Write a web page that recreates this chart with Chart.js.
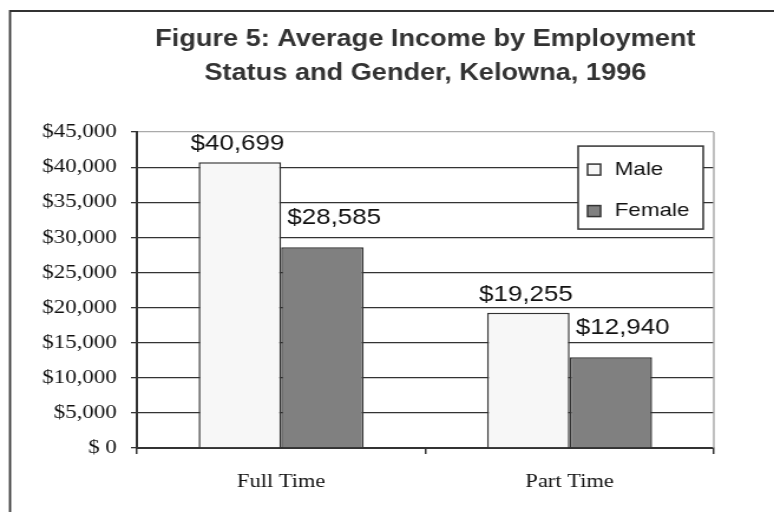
<!DOCTYPE html>
<html>
<head>
<meta charset="utf-8">
<title>Figure 5: Average Income by Employment Status and Gender, Kelowna, 1996</title>
<script src="https://cdn.jsdelivr.net/npm/chart.js@4"></script>
<style>
  html, body { margin: 0; padding: 0; background: #fff; }
</style>
</head>
<body>
<!-- the original figure is a little stretched sideways, so the 656px canvas is shown 774px wide -->
<canvas id="chart" width="656" height="512" style="display:block;width:774px;height:512px"></canvas>
<script>
// data
const categories = ['Full Time', 'Part Time'];
const seriesNames = ['Male', 'Female'];
const maleIncome = [40699, 19255];
const femaleIncome = [28585, 12940];
const yTickLabels = ['$ 0', '$5,000', '$10,000', '$15,000', '$20,000', '$25,000', '$30,000', '$35,000', '$40,000', '$45,000'];

const darkLine = '#333';
const serifFont = 'Liberation Serif';
const sansFont = 'Liberation Sans';

// labels over the bars
const barLabels = {
    id: 'barLabels',
    afterDatasetsDraw(chart) {
        const ctx = chart.ctx;
        ctx.save();
        ctx.font = '22px "' + sansFont + '"';
        ctx.fillStyle = '#111';
        ctx.textAlign = 'center';
        ctx.textBaseline = 'middle';
        chart.data.datasets.forEach((ds, i) => {
            const shift = i === 0 ? [-2, 18] : [10, 29];
            chart.getDatasetMeta(i).data.forEach((bar, j) => {
                ctx.fillText('$' + ds.data[j].toLocaleString('en-US'), bar.x + shift[0], bar.y - shift[1]);
            });
        });
        ctx.restore();
    }
};

// boxed legend inside the plot, top right
const legendBox = {
    id: 'legendBox',
    afterDraw(chart) {
        const ctx = chart.ctx;
        const area = chart.chartArea;
        const left = area.right - 115;
        const top = area.top + 14;
        ctx.save();
        ctx.fillStyle = '#fff';
        ctx.fillRect(left, top, 106, 83);
        ctx.strokeStyle = darkLine;
        ctx.lineWidth = 1.5;
        ctx.strokeRect(left, top, 106, 83);
        ctx.font = '19px "' + sansFont + '"';
        ctx.textBaseline = 'middle';
        chart.data.datasets.forEach((ds, i) => {
            const cy = top + 23.5 + i * 41.5;
            ctx.fillStyle = ds.backgroundColor;
            ctx.fillRect(left + 8, cy - 5.5, 11, 11);
            ctx.strokeRect(left + 8, cy - 5.5, 11, 11);
            ctx.fillStyle = '#111';
            ctx.fillText(ds.label, left + 31, cy);
        });
        ctx.restore();
    }
};

// grey right edge of the plot and the outer frame of the figure
const frame = {
    id: 'frame',
    beforeDatasetsDraw(chart) {
        const ctx = chart.ctx;
        const area = chart.chartArea;
        ctx.save();
        ctx.strokeStyle = '#aaa';
        ctx.lineWidth = 1.5;
        ctx.beginPath();
        ctx.moveTo(area.right, area.top);
        ctx.lineTo(area.right, area.bottom);
        ctx.stroke();
        ctx.restore();
    },
    afterDraw(chart) {
        const ctx = chart.ctx;
        ctx.save();
        ctx.strokeStyle = darkLine;
        ctx.lineWidth = 1.8;
        ctx.beginPath();
        ctx.moveTo(8.5, chart.height);
        ctx.lineTo(8.5, 11);
        ctx.lineTo(chart.width, 11);
        ctx.stroke();
        ctx.restore();
    }
};

const ctx = document.getElementById('chart').getContext('2d');
const incomeChart = new Chart(ctx, {
    type: 'bar',
    data: {
        labels: categories,
        datasets: [{
            label: seriesNames[0],
            data: maleIncome,
            backgroundColor: '#f7f7f7',
            borderColor: darkLine,
            borderWidth: 1.5
        }, {
            label: seriesNames[1],
            data: femaleIncome,
            backgroundColor: '#808080',
            borderColor: darkLine,
            borderWidth: 1.5
        }]
    },
    options: {
        responsive: false,
        devicePixelRatio: 1,
        animation: false,
        layout: { padding: { left: 0, right: 51, top: 0, bottom: 0 } },
        datasets: {
            bar: { categoryPercentage: 0.572, barPercentage: 1 }
        },
        plugins: {
            legend: { display: false },
            tooltip: { enabled: false },
            title: {
                display: true,
                fullSize: false,
                text: ['Figure 5: Average Income by Employment', 'Status and Gender, Kelowna, 1996'],
                font: { family: sansFont, size: 23, weight: 'bold', lineHeight: 1.48 },
                color: '#333',
                padding: { top: 23, bottom: 41 }
            }
        },
        scales: {
            x: {
                grid: { offset: true, drawOnChartArea: false, tickLength: 6, color: darkLine, lineWidth: 1.5 },
                border: { color: darkLine, width: 2 },
                ticks: { font: { family: serifFont, size: 19 }, color: '#111', padding: 17 },
                afterFit(scale) { scale.height = 64; }
            },
            y: {
                min: 0,
                max: 45000,
                ticks: {
                    stepSize: 5000,
                    font: { family: serifFont, size: 19.5 },
                    color: '#111',
                    padding: 12,
                    callback: (value) => yTickLabels[Math.round(value / 5000)]
                },
                grid: {
                    color: (c) => (c.tick && c.tick.value === 45000 ? '#aaa' : darkLine),
                    tickColor: darkLine,
                    tickLength: 5,
                    lineWidth: 1.3
                },
                border: { color: darkLine, width: 2 },
                afterFit(scale) { scale.width = 116; }
            }
        }
    },
    plugins: [frame, barLabels, legendBox]
});
</script>
</body>
</html>
